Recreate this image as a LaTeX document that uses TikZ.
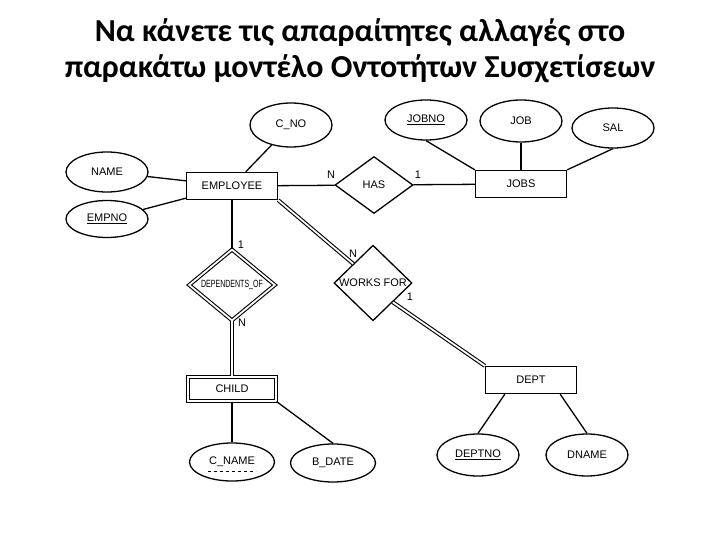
\documentclass[tikz,border=0pt]{standalone}
\usepackage{fontspec}
\setmainfont{Liberation Sans}
\newfontfamily\titlefont{Carlito}
\usetikzlibrary{shapes.geometric,calc}

\begin{document}
\begin{tikzpicture}[x=1pt,y=-1pt,font=\fontsize{11}{13}\selectfont,line width=1.3pt,
  entity/.style={draw,rectangle,minimum width=91pt,minimum height=27pt,inner sep=0pt},
  attrib/.style={draw,ellipse,minimum width=82pt,minimum height=40pt,inner sep=0pt},
  rel/.style={draw,diamond,minimum width=78pt,minimum height=57pt,inner sep=0pt},
  dbl/.style={double,line width=1.1pt,double distance=1.8pt}]
  \useasboundingbox (0,0) rectangle (720,540);
  \node[font=\titlefont\bfseries\fontsize{32}{36}\selectfont,align=center] (title) at (360,51)
    {Να κάνετε τις απαραίτητες αλλαγές στο\\παρακάτω μοντέλο Οντοτήτων Συσχετίσεων};
  % entities
  \node[entity] (emp) at (232,186) {EMPLOYEE};
  \node[entity] (jobs) at (521,184) {JOBS};
  \node[entity] (dept) at (531,380) {DEPT};
  \node[entity,dbl,minimum width=88pt,minimum height=24pt] (child) at (232,389) {CHILD};
  % relationships
  \node[rel] (has) at (374,185) {HAS};
  \node[rel] (works) at (373,283) {WORKS FOR};
  \node[rel,dbl,minimum width=86pt,minimum height=60pt] (dep) at (232,285)
    {\scalebox{0.64}[0.95]{DEPENDENTS\_OF}};
  % attributes
  \node[attrib,minimum height=44pt] (cno) at (291,125) {C\_NO};
  \node[attrib] (name) at (107,172) {NAME};
  \node[attrib,minimum height=37pt] (empno) at (107,219) {\underline{EMPNO}};
  \node[attrib] (jobno) at (426,120) {\underline{JOBNO}};
  \node[attrib,minimum height=42pt] (job) at (521,121) {JOB};
  \node[attrib] (sal) at (613,128) {SAL};
  \node[attrib,minimum height=42pt] (deptno) at (478,455) {\underline{DEPTNO}};
  \node[attrib,minimum height=42pt] (dname) at (587,455) {DNAME};
  \node[attrib,minimum width=85pt,minimum height=38pt] (cname) at (232,462) {C\_NAME};
  \node[attrib,minimum width=85pt,minimum height=38pt] (bdate) at (333,463) {B\_DATE};
  \draw[dashed,line width=0.8pt] ($(cname.center)+(-24,9)$) -- ++(48,0);
  % connectors
  \draw (cno) -- (emp);
  \draw (name) -- (emp);
  \draw (empno) -- (emp);
  \draw (emp) -- (has);
  \draw (has) -- (jobs);
  \draw (jobno.south) -- (jobs.north west);
  \draw (job) -- (jobs);
  \draw (sal.south) -- (jobs.north east);
  \draw (emp) -- (dep);
  \draw[dbl] (dep) -- (child);
  \draw[dbl] (emp.south east) -- (works.north west);
  \draw[dbl] (works.south east) -- (dept.north west);
  \draw (child) -- (cname);
  \draw (child.south east) -- (bdate.north);
  \draw ([xshift=20pt]dept.south west) -- (deptno.north);
  \draw ([xshift=-17pt]dept.south east) -- (dname.north);
  % cardinalities
  \node (hasn) at (331,175) {N};
  \node (has1) at (418,175) {1};
  \node (dep1) at (241,245) {1};
  \node (depn) at (242,323) {N};
  \node (worksn) at (353,254) {N};
  \node (works1) at (410,297) {1};
\end{tikzpicture}
\end{document}
